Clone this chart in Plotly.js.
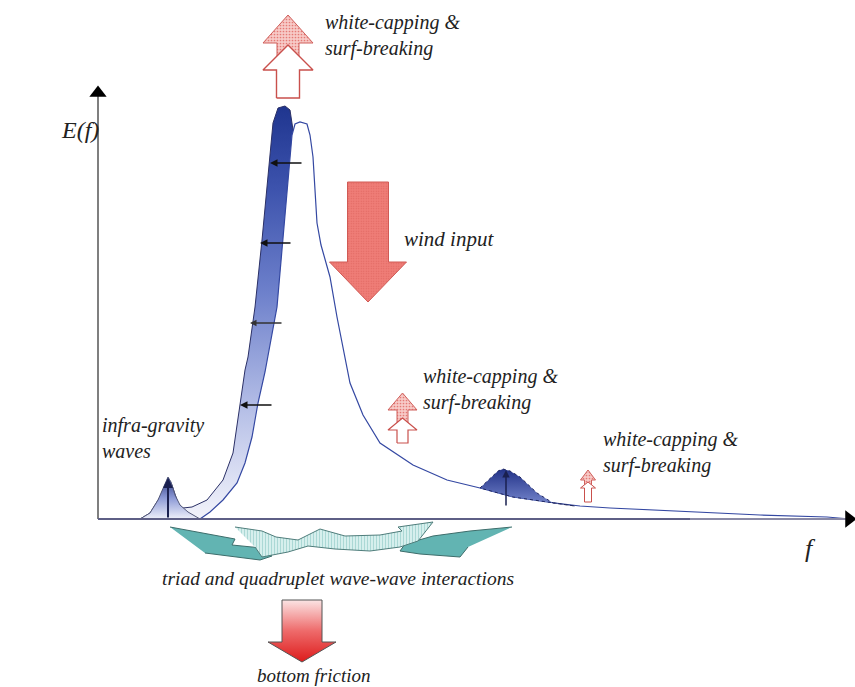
<!DOCTYPE html>
<html><head><meta charset="utf-8">
<script src="https://cdn.plot.ly/plotly-3.0.1.min.js"></script>
<style>html,body{margin:0;padding:0;background:#fff}#chart{width:855px;height:687px}</style>
</head><body><div id="chart"></div>
<script>
// ---- data (f, E in schematic units) ----
const fShift = [42,52,62,67,70,74,80,85,94,109,125,135,142,147,150,157,164,170,175,180,187,192,194,198,202,208,217,227,242,262,302,352,402,502,592];
const EShift = [0,6,22,35,41,34,16,11,12,19,39,66,116,149,162,212,279,346,396,411,413,409,396,369,319,259,199,149,99,59,29,14,7,3,0];
const fMain = [102,112,125,139,147,154,160,167,179,185,190,194,197,202,209,212,215,219,223,227,232,239,247,252,265,282,315,349,382,415,449,482,512,595,662,729,752];
const EMain = [0,7,19,36,56,82,116,147,212,279,342,384,395,397,395,384,362,296,274,259,242,202,162,136,104,76,54,39,31,22,17,13,11,7,4,2,0];
const fInfra = [42,52,60,65,68,70,73,77,82,90,102];
const EInfra = [0,6,19,31,39,42,37,24,14,7,0];
const fBump = [382,392,400,405,412,422,432,439,455,477,449,415,382];
const EBump = [31,41,48,50,48,42,32,26,16,13,17,22,31];
const fTealL = [72,137,134,164,174,162,107];
const ETealL = [-8,-20,-26,-29,-37,-41,-34];
const fTealR = [414,372,335,307,302,322,362,370];
const ETealR = [-8,-12,-17,-25,-32,-35,-38,-28];
const fTealM = [137,164,178,200,222,247,282,304,300,335,320,302,272,237,210,190,164,157];
const ETealM = [-8,-12,-18,-21,-10,-17,-16,-12,-8,-3,-22,-28,-32,-30,-27,-33,-38,-28];
const wcLabel = 'white-capping &amp;<br>surf-breaking';

// ---- helpers ----
function arrowPoly(cx, yTail, yNeck, yTip, sh, hh){
  return {x:[cx-sh,cx+sh,cx+sh,cx+hh,cx,cx-hh,cx-sh,cx-sh],
          y:[yTail,yTail,yNeck,yNeck,yTip,yNeck,yNeck,yTail]};
}
function polyTrace(p, fill, line, extra){
  return Object.assign({type:'scatter',mode:'lines',x:p.x,y:p.y,fill:'toself',
    fillcolor:fill,line:{color:line,width:1},hoverinfo:'skip'}, extra||{});
}
const pinkPattern = {shape:'.',bgcolor:'#f7cac7',fgcolor:'#e57a76',size:3,solidity:0.25};
const windPattern = {shape:'.',bgcolor:'#ef7d77',fgcolor:'#e06560',size:2.5,solidity:0.2};
const tealPattern = {shape:'|',bgcolor:'#d6efed',fgcolor:'#a6d6d2',size:3,solidity:0.3};

const traces = [];
traces.push({type:'scatter',mode:'lines',x:fShift,y:EShift,fill:'tozeroy',
  line:{color:'#2b3066',width:1},
  fillgradient:{type:'vertical',start:0,stop:413,colorscale:[[0,'#f3f4fb'],[0.25,'#b9c2e8'],[0.55,'#6d80cb'],[0.8,'#3d53ad'],[1,'#1f358f']]},
  hoverinfo:'skip'});
traces.push({type:'scatter',mode:'lines',x:fMain,y:EMain,fill:'tozeroy',fillcolor:'#ffffff',
  line:{color:'#3448a2',width:1.2},hoverinfo:'skip'});
traces.push({type:'scatter',mode:'lines',x:fInfra,y:EInfra,fill:'tozeroy',
  line:{color:'#555a7a',width:1},
  fillgradient:{type:'vertical',start:0,stop:42,colorscale:[[0,'#eef0fa'],[0.5,'#8d9ad6'],[1,'#27347e']]},
  hoverinfo:'skip'});
traces.push({type:'scatter',mode:'lines',x:fBump,y:EBump,fill:'toself',
  line:{color:'#1f2660',width:1,dash:'dot'},
  fillgradient:{type:'vertical',start:12,stop:50,colorscale:[[0,'#7a8bd0'],[1,'#223288']]},
  hoverinfo:'skip'});
traces.push({type:'scatter',mode:'lines',x:[0,0],y:[0,425],line:{color:'#555',width:1.5},hoverinfo:'skip'});
traces.push({type:'scatter',mode:'lines',x:[0,750],y:[0,0],line:{color:'#8a8aa6',width:1.8},hoverinfo:'skip'});
traces.push({type:'scatter',mode:'lines',x:[0,592],y:[0,0],line:{color:'#5e5f86',width:2.2},hoverinfo:'skip'});
traces.push({type:'scatter',mode:'markers',x:[0],y:[426],marker:{symbol:'triangle-up',size:15,color:'#000'},hoverinfo:'skip'});
traces.push({type:'scatter',mode:'markers',x:[751],y:[0],marker:{symbol:'triangle-right',size:15,color:'#000'},hoverinfo:'skip'});

const wc1p = arrowPoly(190,450,476,504,11,25);
const wc1w = arrowPoly(190,421,449,474,11.5,25);
traces.push(polyTrace(wc1p,'#f7cac7','#d0605c',{fillpattern:pinkPattern}));
traces.push(polyTrace(wc1w,'#ffffff','#c9504c',{line:{color:'#c9504c',width:1.4}}));
const wind = arrowPoly(270,337,257,217,20.5,38.5);
traces.push(polyTrace(wind,'#ef7d77','#d05a55',{fillpattern:windPattern}));
const wc2p = arrowPoly(304.5,95,109,126,5.5,14.5);
const wc2w = arrowPoly(304.5,76,89,101,5.5,14.5);
traces.push(polyTrace(wc2p,'#f7cac7','#d0605c',{fillpattern:pinkPattern}));
traces.push(polyTrace(wc2w,'#ffffff','#c9504c',{line:{color:'#c9504c',width:1.2}}));
const wc3p = arrowPoly(490,34,39,49,3.5,7.5);
const wc3w = arrowPoly(490,17,31,37,3.5,7.5);
traces.push(polyTrace(wc3p,'#f7cac7','#d0605c',{fillpattern:pinkPattern}));
traces.push(polyTrace(wc3w,'#ffffff','#c9504c',{line:{color:'#c9504c',width:1}}));
const fric = arrowPoly(204,-81,-123,-143,20,34);
traces.push(polyTrace(fric,'#e53030','#555',{fillgradient:{type:'vertical',start:-143,stop:-81,colorscale:[[0,'#dd1c1c'],[0.5,'#ee6a6a'],[1,'#fbe4e4']]}}));

traces.push(polyTrace({x:fTealL,y:ETealL},'#62b4b2','#3d6d6b'));
traces.push(polyTrace({x:fTealR,y:ETealR},'#62b4b2','#3d6d6b'));
traces.push(polyTrace({x:fTealM,y:ETealM},'#d6efed','#4f7d7b',{fillpattern:tealPattern}));

function txt(x,y,t,xa,size,align){
  return {x:x,y:y,xref:'x',yref:'y',text:t,showarrow:false,xanchor:xa,yanchor:'middle',
    align:align||'left',font:{family:'Liberation Serif',size:size||20,color:'#222',style:'italic'}};
}
function arr(x,y,ax,ay,color,w){
  return {x:x,y:y,ax:ax,ay:ay,xref:'x',yref:'y',axref:'x',ayref:'y',text:'',showarrow:true,
    arrowhead:2,arrowsize:1,arrowwidth:w||1.5,arrowcolor:color||'#111'};
}
const annotations = [
  txt(225,484,wcLabel,'left'),
  txt(304,280,'wind input','left',21),
  txt(323,130,wcLabel,'left'),
  txt(503,67,wcLabel,'left'),
  txt(2,81,'infra-gravity<br>waves','left'),
  txt(239.5,-59,'triad and quadruplet wave-wave interactions','center',19.5,'center'),
  txt(215,-156,'bottom friction','center',19,'center'),
  txt(-18,389,'E(f)','center',24,'center'),
  txt(712,-29,'f','center',26,'center'),
  arr(172,356,205,356),
  arr(162,276,194,276),
  arr(152,196,185,196,'#333',1.3),
  arr(142,114,175,114),
  arr(70,41,70,0,'#1a2050',2),
  arr(408,49,408,12,'#1a2050',1.5)
];

const layout = {
  width:855,height:687,margin:{l:0,r:0,t:0,b:0},
  font:{family:'Liberation Serif'},
  paper_bgcolor:'#fff',plot_bgcolor:'#fff',showlegend:false,
  xaxis:{range:[-98,757],visible:false,fixedrange:true},
  yaxis:{range:[-168,519],visible:false,fixedrange:true},
  annotations:annotations
};
Plotly.newPlot('chart',traces,layout,{staticPlot:true,displayModeBar:false});
</script></body></html>
